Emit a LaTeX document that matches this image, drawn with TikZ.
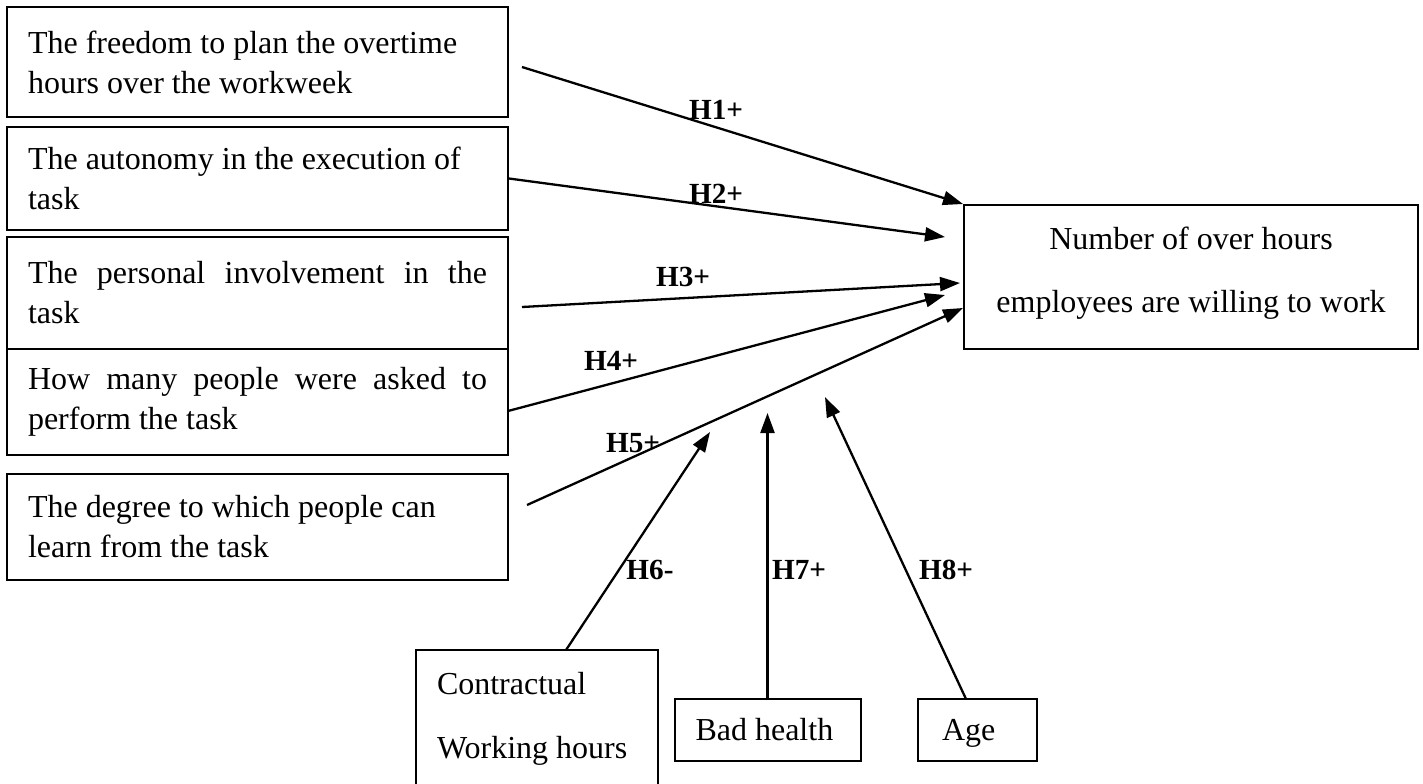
\documentclass[tikz,border=0pt]{standalone}
\usepackage{fontspec}
\setmainfont{Liberation Serif}
\usetikzlibrary{arrows.meta}
\newcommand{\nsp}{\spaceskip=0pt\xspaceskip=0pt\relax}
\tikzset{
  box/.style={draw, line width=1pt, inner xsep=10.5pt, inner ysep=0pt, align=left,
              font=\fontsize{16pt}{20pt}\selectfont},
  smallbox/.style={box, text height=10.9pt, text depth=0pt},
  conn/.style={line width=1.15pt, -{Triangle[length=10pt,width=7pt]}},
  hyp/.style={font=\bfseries\fontsize{14.6pt}{16pt}\selectfont, inner sep=0pt},
}
\begin{document}
\begin{tikzpicture}[x=0.5pt,y=-0.5pt]
\useasboundingbox (0,0) rectangle (1423,783);

% left boxes
\node[box, text width=229.5pt, minimum height=55pt] (b1) at (257.5,62)
  {\nsp The freedom to plan the overtime\\hours over the workweek};
\node[box, text width=229.5pt, minimum height=51.5pt] (b2) at (257.5,178.5)
  {\nsp The autonomy in the execution of\\task};
\node[box, text width=229.5pt, minimum height=56pt] (b3) at (257.5,293)
  {\nsp The\hfill personal\hfill involvement\hfill in\hfill the\\task};
\node[box, text width=229.5pt, minimum height=53pt] (b4) at (257.5,402)
  {\nsp How\hfill many\hfill people\hfill were\hfill asked\hfill to\\perform the task};
\node[box, text width=229.5pt, minimum height=53pt] (b5) at (257.5,527)
  {\nsp The degree to which people can\\learn from the task};

% target
\node[box, align=flush center, text width=206pt, minimum height=72pt] (tgt) at (1191,277)
  {\nsp Number of over hours\\[11.5pt]employees are willing to work\rule[-7.5pt]{0pt}{0pt}};

% bottom boxes
\node[box, text width=100pt, minimum height=69pt] (ct) at (537,719)
  {\nsp Contractual\\[12pt]Working hours};
\node[smallbox, text width=72pt, minimum height=31pt] (bh) at (767.5,730) {\nsp Bad health};
\node[smallbox, inner xsep=12pt, text width=35.5pt, minimum height=31pt] (age) at (977.5,730) {Age};

% free ends
\coordinate (s1) at (522,67);
\coordinate (s3) at (522,307);
\coordinate (s4) at (508,411);
\coordinate (s5) at (527,505);
\coordinate (s6) at (566,650);
\coordinate (s8) at (966,699);
\coordinate (e2) at (945,237);
\coordinate (e3) at (960,283);
\coordinate (e4) at (945,295);
\coordinate (e5) at (963,308);
\coordinate (e6) at (710,432);
\coordinate (e7) at (767.5,413);
\coordinate (e8) at (825,397);

% connectors
\draw[conn] (s1) -- (tgt.north west);
\draw[conn] (b2.east) -- (e2);
\draw[conn] (s3) -- (e3);
\draw[conn] (s4) -- (e4);
\draw[conn] (s5) -- (e5);
\draw[conn] (s6) -- (e6);
\draw[conn] (bh.north) -- (e7);
\draw[conn] (s8) -- (e8);

% labels
\node[hyp] (h1) at (716,110) {H1+};
\node[hyp] (h2) at (716,194) {H2+};
\node[hyp] (h3) at (683,277) {H3+};
\node[hyp] (h4) at (611,361) {H4+};
\node[hyp] (h5) at (633,443) {H5+};
\node[hyp] (h6) at (650,570) {H6-};
\node[hyp] (h7) at (799,570) {H7+};
\node[hyp] (h8) at (946,570) {H8+};
\end{tikzpicture}
\end{document}
